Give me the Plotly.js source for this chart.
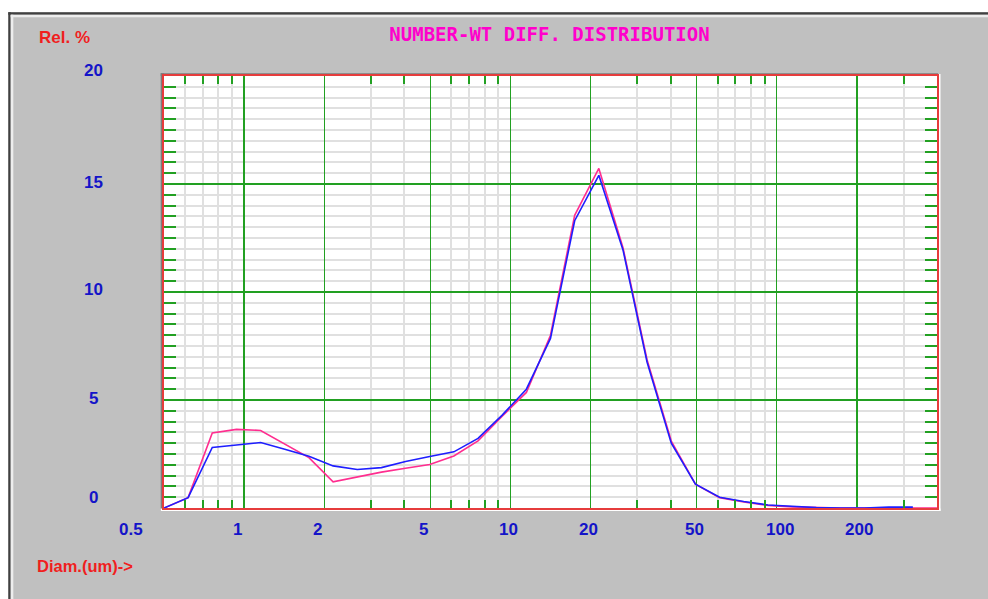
<!DOCTYPE html>
<html>
<head>
<meta charset="utf-8">
<script src="https://cdn.plot.ly/plotly-3.0.1.min.js"></script>
<style>html,body{margin:0;padding:0;background:#fff;}#chart{width:988px;height:599px;}</style>
</head>
<body>
<div id="chart"></div>
<script>
// ---- data ----
const diam = [0.5, 0.616, 0.759, 0.936, 1.153, 1.421, 1.751, 2.158, 2.659, 3.277, 4.038, 4.976, 6.132, 7.557, 9.313, 11.48, 14.14, 17.43, 21.48, 26.47, 32.61, 40.19, 49.53, 61.04, 75.21, 92.69, 114.2, 140.8, 173.5, 213.8, 263.4, 324.6, 400];
const pinkSeries = [0, 0.48, 3.47, 3.64, 3.59, 2.95, 2.33, 1.21, 1.45, 1.66, 1.84, 2.01, 2.41, 3.11, 4.25, 5.35, 8.0, 13.55, 15.72, 12.05, 6.85, 3.1, 1.1, 0.48, 0.28, 0.12, 0.05, 0.02, 0, 0, 0, 0, 0];
const blueSeries = [0, 0.48, 2.80, 2.92, 3.03, 2.72, 2.40, 1.95, 1.78, 1.87, 2.15, 2.38, 2.60, 3.22, 4.30, 5.50, 7.85, 13.3, 15.4, 11.95, 6.75, 3.0, 1.1, 0.5, 0.3, 0.14, 0.07, 0.02, 0, 0, 0.04, 0.04];

const xMajor = [1, 2, 5, 10, 20, 50, 100, 200];
const xMinor = [0.6, 0.7, 0.8, 0.9, 3, 4, 6, 7, 8, 9, 30, 40, 60, 70, 80, 90, 300];
const yMajor = [5, 10, 15];
const yMinor = [0.5, 1, 1.5, 2, 2.5, 3, 3.5, 4, 4.5, 5.5, 6, 6.5, 7, 7.5, 8, 8.5, 9, 9.5, 10.5, 11, 11.5, 12, 12.5, 13, 13.5, 14, 14.5, 15.5, 16, 16.5, 17, 17.5, 18, 18.5, 19, 19.5];

const xTickVals = [0.5, 1, 2, 5, 10, 20, 50, 100, 200];
const xTickText = ['0.5', '1', '2', '5', '10', '20', '50', '100', '200'];
const yTickVals = [0, 5, 10, 15, 20];
const yTickText = ['0', '5', '10', '15', '20'];

const titleText = 'NUMBER-WT DIFF. DISTRIBUTION';
const yTitleText = 'Rel. %';
const xTitleText = 'Diam.(um)->';

// ---- style / layout ----
const W = 988, H = 599;
const L = 164, R = 937, T = 76, B = 508;
const px2x = px => (px - L) / (R - L);
const py2y = py => (B - py) / (B - T);
const xLabelShift = [-46, -12.5, -12.7, -12.7, -12.5, -12.6, -12.6, -11.8, -13];
const yLabelShift = [10.5, 2, 2.4, 1.5, 5.5];

function rectPx(x0, y0, x1, y1, color) {
  return {type: 'rect', xref: 'paper', yref: 'paper', layer: 'below',
    x0: px2x(x0), x1: px2x(x1), y0: py2y(y1), y1: py2y(y0),
    fillcolor: color, line: {width: 0}};
}

const shapes = [
  rectPx(0, 0, W, 12.3, '#ffffff'),
  rectPx(0, 0, 8.3, H, '#ffffff'),
  rectPx(8.3, 12.3, W, 14.7, '#404040'),
  rectPx(8.3, 12.3, 10.7, H, '#404040'),
  rectPx(10.7, 14.7, W, 17.3, '#ededed'),
  rectPx(10.7, 14.7, 13.3, H, '#ededed'),
  rectPx(160.7, 73.3, 938, 76, '#7c7c7c'),
  rectPx(160.7, 73.3, 164, 511, '#7c7c7c'),
  rectPx(937.5, 74, 940.5, 511, '#ffffff'),
  rectPx(160.7, 508.5, 940.5, 511, '#ffffff')
];

const blueLbl = '#1414c8';
const redLbl = '#f01e1e';
const lblFont = {family: 'Liberation Sans, Arial, sans-serif', size: 17, color: blueLbl, weight: 'bold'};

const annotations = [];
xTickVals.forEach((v, i) => {
  annotations.push({xref: 'x', yref: 'paper', x: Math.log10(v), y: py2y(529),
    xanchor: 'left', yanchor: 'middle', xshift: xLabelShift[i], showarrow: false,
    borderpad: 0, text: '<b>' + xTickText[i] + '</b>', font: lblFont});
});
yTickVals.forEach((v, i) => {
  annotations.push({xref: 'paper', yref: 'y', x: px2x(93), y: v,
    xanchor: 'center', yanchor: 'middle', yshift: yLabelShift[i], showarrow: false,
    borderpad: 0, text: '<b>' + yTickText[i] + '</b>', font: lblFont});
});
annotations.push({xref: 'paper', yref: 'paper', x: px2x(37.7), y: py2y(38),
  xanchor: 'left', yanchor: 'middle', showarrow: false, borderpad: 0,
  text: '<b>' + yTitleText + '</b>', font: {family: 'Liberation Sans, Arial, sans-serif', size: 17, color: redLbl}});
annotations.push({xref: 'paper', yref: 'paper', x: px2x(35.7), y: py2y(566),
  xanchor: 'left', yanchor: 'middle', showarrow: false, borderpad: 0,
  text: '<b>' + xTitleText + '</b>', font: {family: 'Liberation Sans, Arial, sans-serif', size: 16.5, color: redLbl}});

const green = '#22a022';
const traces = [
  {x: diam, y: pinkSeries, type: 'scatter', mode: 'lines', line: {color: '#ff2d8f', width: 1.6}, hoverinfo: 'skip'},
  {x: diam.slice(0, blueSeries.length), y: blueSeries, type: 'scatter', mode: 'lines', line: {color: '#1e1eff', width: 1.6}, hoverinfo: 'skip'}
];

const layout = {
  width: W, height: H,
  margin: {l: L, r: W - R, t: T, b: H - B, pad: 0},
  paper_bgcolor: '#c0c0c0',
  plot_bgcolor: '#ffffff',
  showlegend: false,
  title: {text: titleText, x: 549.5 / W, xanchor: 'center', y: 1 - 34.5 / H, yanchor: 'middle',
    xref: 'container', yref: 'container',
    font: {family: 'DejaVu Sans Mono, Liberation Mono, monospace', size: 19, color: '#ff00cc', weight: 'bold'}},
  xaxis: {
    type: 'log', range: [Math.log10(0.5), Math.log10(400)], fixedrange: true,
    tickmode: 'array', tickvals: xMajor, showticklabels: false, ticks: '',
    showgrid: true, gridcolor: green, gridwidth: 1.5, zeroline: false,
    showline: true, linecolor: '#e63c3c', linewidth: 2, mirror: 'allticks',
    minor: {tickmode: 'array', tickvals: xMinor, ticks: 'inside', ticklen: 8, tickwidth: 2, tickcolor: green,
      showgrid: true, gridcolor: '#e0e0e0', gridwidth: 2}
  },
  yaxis: {
    type: 'linear', range: [0, 20], fixedrange: true,
    tickmode: 'array', tickvals: yMajor, showticklabels: false, ticks: '',
    showgrid: true, gridcolor: green, gridwidth: 1.5, zeroline: false,
    showline: true, linecolor: '#e63c3c', linewidth: 2, mirror: 'allticks',
    minor: {tickmode: 'array', tickvals: yMinor, ticks: 'inside', ticklen: 12, tickwidth: 2, tickcolor: green,
      showgrid: true, gridcolor: '#e0e0e0', gridwidth: 2}
  },
  shapes: shapes,
  annotations: annotations
};

Plotly.newPlot('chart', traces, layout, {staticPlot: true, displayModeBar: false});
</script>
</body>
</html>
